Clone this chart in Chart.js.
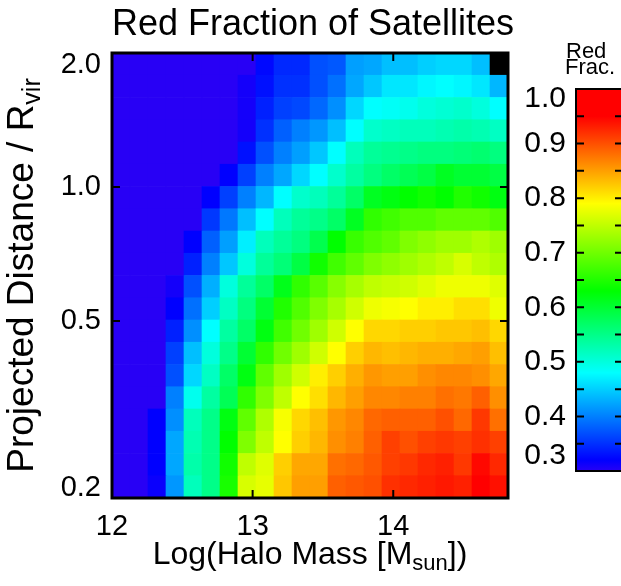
<!DOCTYPE html>
<html>
<head>
<meta charset="utf-8">
<title>Red Fraction of Satellites</title>
<script src="https://cdn.jsdelivr.net/npm/chart.js@4.4.1/dist/chart.umd.min.js"></script>
<style>
  html, body { margin: 0; padding: 0; background: #fff; overflow: hidden; }
  #wrap { position: relative; width: 621px; height: 586px; overflow: hidden; }
  #heat { position: absolute; left: 0; top: 0; }
  #cbar { position: absolute; left: 500px; top: 0; }
</style>
</head>
<body>
<div id="wrap">
  <canvas id="heat" width="621" height="586"></canvas>
  <canvas id="cbar" width="160" height="586"></canvas>
</div>
<script>
// bin centres in log halo mass (22 columns)
const massBins = [12.064, 12.192, 12.320, 12.448, 12.576, 12.704, 12.832, 12.960, 13.088, 13.216, 13.344,
                  13.472, 13.600, 13.728, 13.856, 13.984, 14.112, 14.240, 14.368, 14.496, 14.624, 14.752];
// bin edges in projected distance / Rvir (20 rows, log spaced)
const distEdges = [0.2, 0.2244, 0.2518, 0.2825, 0.3170, 0.3557, 0.3991, 0.4478, 0.5024, 0.5637, 0.6325,
                   0.7096, 0.7962, 0.8934, 1.0024, 1.1247, 1.2619, 1.4159, 1.5887, 1.7825, 2.0];

// red fraction per row, bottom (0.2) to top (2.0); null = no satellites
const row00 = [0.28,0.28,0.315,0.415,0.52,0.55,0.645,0.765,0.775,0.825,0.85,0.85,0.89,0.895,0.90,0.92,0.925,0.93,0.935,0.93,0.96,0.94];
const row01 = [0.28,0.28,0.32,0.425,0.53,0.55,0.64,0.75,0.77,0.82,0.845,0.845,0.88,0.885,0.895,0.91,0.915,0.925,0.93,0.915,0.945,0.925];
const row02 = [0.28,0.28,0.32,0.425,0.525,0.55,0.63,0.71,0.75,0.79,0.82,0.835,0.86,0.87,0.89,0.91,0.90,0.91,0.915,0.91,0.92,0.91];
const row03 = [0.28,0.28,0.32,0.41,0.52,0.55,0.62,0.69,0.74,0.785,0.815,0.83,0.855,0.865,0.885,0.89,0.89,0.89,0.90,0.885,0.915,0.88];
const row04 = [0.28,0.28,0.28,0.40,0.49,0.535,0.58,0.66,0.71,0.75,0.79,0.81,0.835,0.85,0.865,0.865,0.87,0.87,0.88,0.875,0.89,0.86];
const row05 = [0.28,0.28,0.28,0.37,0.455,0.515,0.57,0.62,0.69,0.73,0.76,0.80,0.82,0.84,0.855,0.85,0.85,0.86,0.865,0.865,0.86,0.845];
const row06 = [0.28,0.28,0.28,0.36,0.44,0.50,0.55,0.60,0.66,0.70,0.73,0.76,0.79,0.82,0.835,0.83,0.835,0.84,0.84,0.845,0.85,0.83];
const row07 = [0.28,0.28,0.28,0.34,0.41,0.48,0.535,0.57,0.62,0.67,0.70,0.73,0.76,0.79,0.815,0.815,0.82,0.82,0.825,0.825,0.83,0.815];
const row08 = [0.28,0.28,0.28,0.32,0.39,0.45,0.515,0.555,0.60,0.65,0.68,0.71,0.735,0.76,0.78,0.785,0.79,0.80,0.80,0.81,0.81,0.78];
const row09 = [0.28,0.28,0.28,0.31,0.37,0.43,0.50,0.54,0.57,0.615,0.66,0.685,0.715,0.735,0.75,0.755,0.76,0.77,0.78,0.78,0.78,0.77];
const row10 = [0.28,0.28,0.28,0.28,0.34,0.40,0.445,0.50,0.54,0.56,0.59,0.64,0.67,0.69,0.71,0.72,0.73,0.74,0.75,0.765,0.75,0.74];
const row11 = [0.28,0.28,0.28,0.28,0.32,0.38,0.42,0.47,0.52,0.54,0.555,0.585,0.63,0.665,0.68,0.69,0.71,0.72,0.73,0.73,0.74,0.73];
const row12 = [0.28,0.28,0.28,0.28,0.30,0.355,0.395,0.44,0.48,0.52,0.54,0.55,0.57,0.61,0.66,0.67,0.68,0.68,0.69,0.69,0.69,0.68];
const row13 = [0.28,0.28,0.28,0.28,0.28,0.32,0.36,0.40,0.435,0.48,0.51,0.52,0.54,0.57,0.61,0.62,0.63,0.64,0.63,0.65,0.64,0.62];
const row14 = [0.28,0.28,0.28,0.28,0.28,0.28,0.32,0.36,0.40,0.425,0.455,0.48,0.51,0.535,0.555,0.57,0.58,0.59,0.61,0.60,0.60,0.59];
const row15 = [0.28,0.28,0.28,0.28,0.28,0.28,0.28,0.33,0.37,0.40,0.42,0.445,0.48,0.52,0.54,0.545,0.55,0.555,0.555,0.56,0.565,0.555];
const row16 = [0.28,0.28,0.28,0.28,0.28,0.28,0.28,0.31,0.35,0.38,0.40,0.415,0.44,0.48,0.51,0.515,0.52,0.52,0.525,0.53,0.525,0.515];
const row17 = [0.28,0.28,0.28,0.28,0.28,0.28,0.28,0.31,0.34,0.36,0.365,0.385,0.41,0.455,0.48,0.485,0.49,0.50,0.505,0.51,0.50,0.48];
const row18 = [0.28,0.28,0.28,0.28,0.28,0.28,0.28,0.31,0.33,0.35,0.35,0.37,0.39,0.425,0.445,0.465,0.465,0.475,0.48,0.475,0.465,0.435];
const row19 = [0.28,0.28,0.28,0.28,0.28,0.28,0.28,0.30,0.325,0.345,0.345,0.37,0.375,0.42,0.425,0.44,0.44,0.45,0.455,0.455,0.44,null];
const rows = [row00, row01, row02, row03, row04, row05, row06, row07, row08, row09,
              row10, row11, row12, row13, row14, row15, row16, row17, row18, row19];

// axis ticks
const xTicks = [12, 13, 14];
const xTickLabels = ['12', '13', '14'];
const yTicks = [0.2, 0.5, 1.0, 2.0];
const yTickLabels = ['0.2', '0.5', '1.0', '2.0'];
const cbTicks = [0.3, 0.4, 0.5, 0.6, 0.7, 0.8, 0.9, 1.0];
const cbTickLabels = ['0.3', '0.4', '0.5', '0.6', '0.7', '0.8', '0.9', '1.0'];
const cbMinorTicks = [0.35, 0.45, 0.55, 0.65, 0.75, 0.85, 0.95];

// colour table (IDL-like rainbow)
const cmapLevels = [0.30, 0.32, 0.48, 0.63, 0.79, 0.95, 1.0];
const cmapColors = [[40, 0, 245], [0, 0, 255], [0, 255, 255], [0, 255, 0], [255, 255, 0], [255, 0, 0], [255, 0, 0]];

const FONT = '"Liberation Sans", Arial, Helvetica, sans-serif';

function rgb(c) { return 'rgb(' + c[0] + ',' + c[1] + ',' + c[2] + ')'; }

function fracColor(v) {
    if (v === null) return '#000';
    if (v <= cmapLevels[0]) return rgb(cmapColors[0]);
    for (var i = 1; i < cmapLevels.length; i++) {
        if (v <= cmapLevels[i]) {
            var t = (v - cmapLevels[i - 1]) / (cmapLevels[i] - cmapLevels[i - 1]);
            var a = cmapColors[i - 1], b = cmapColors[i];
            return rgb([0, 1, 2].map(k => Math.round(a[k] + (b[k] - a[k]) * t)));
        }
    }
    return rgb(cmapColors[cmapColors.length - 1]);
}

function clamp(p, lo, hi) { return Math.min(Math.max(p, lo), hi); }

// draws text made of pieces, some of them subscripts, centred on x
function drawParts(ctx, parts, x, y) {
    var widths = parts.map(p => { ctx.font = p.size + 'px ' + FONT; return ctx.measureText(p.t).width; });
    var total = widths.reduce((s, w) => s + w, 0);
    var cx = x - total / 2;
    ctx.textAlign = 'left';
    ctx.textBaseline = 'alphabetic';
    parts.forEach((p, i) => {
        ctx.font = p.size + 'px ' + FONT;
        ctx.fillText(p.t, cx, y + (p.dy || 0));
        cx += widths[i];
    });
}

const heatAxes = {
    id: 'heatAxes',
    afterDraw(chart) {
        const { ctx, chartArea: a, scales: { x, y } } = chart;
        ctx.save();
        ctx.strokeStyle = '#000';
        ctx.fillStyle = '#000';

        ctx.lineWidth = 2;
        ctx.beginPath();
        xTicks.forEach(v => {
            const px = x.getPixelForValue(v);
            ctx.moveTo(px, a.bottom); ctx.lineTo(px, a.bottom - 8);
            ctx.moveTo(px, a.top); ctx.lineTo(px, a.top + 8);
        });
        yTicks.forEach(v => {
            const py = y.getPixelForValue(v);
            ctx.moveTo(a.left, py); ctx.lineTo(a.left + 8, py);
            ctx.moveTo(a.right, py); ctx.lineTo(a.right - 8, py);
        });
        ctx.stroke();

        ctx.lineWidth = 3;
        ctx.strokeRect(a.left, a.top, a.right - a.left, a.bottom - a.top);

        ctx.font = '29px ' + FONT;
        ctx.textAlign = 'center';
        ctx.textBaseline = 'alphabetic';
        xTicks.forEach((v, i) => ctx.fillText(xTickLabels[i], x.getPixelForValue(v), a.bottom + 37));

        ctx.textAlign = 'right';
        ctx.textBaseline = 'middle';
        yTicks.forEach((v, i) => {
            ctx.fillText(yTickLabels[i], a.left - 11, clamp(y.getPixelForValue(v), a.top + 12, a.bottom - 10));
        });

        const cx = (a.left + a.right) / 2;
        ctx.font = '36px ' + FONT;
        ctx.textAlign = 'center';
        ctx.textBaseline = 'alphabetic';
        ctx.fillText('Red Fraction of Satellites', cx + 3, 35);

        drawParts(ctx, [
            { t: 'Log(Halo Mass [M', size: 32 },
            { t: 'sun', size: 22, dy: 6 },
            { t: '])', size: 32 }
        ], cx, 564);

        ctx.translate(33, (a.top + a.bottom) / 2);
        ctx.rotate(-Math.PI / 2);
        drawParts(ctx, [
            { t: 'Projected Distance / R', size: 37 },
            { t: 'vir', size: 25, dy: 7 }
        ], 0, 0);
        ctx.restore();
    }
};

const cbarAxes = {
    id: 'cbarAxes',
    afterDraw(chart) {
        const { ctx, chartArea: a, scales: { y } } = chart;
        ctx.save();
        ctx.strokeStyle = '#000';
        ctx.fillStyle = '#000';
        ctx.lineWidth = 2;
        ctx.beginPath();
        cbTicks.concat(cbMinorTicks).forEach(v => {
            const py = y.getPixelForValue(v);
            ctx.moveTo(a.left, py); ctx.lineTo(a.left + 8, py);
            ctx.moveTo(a.right, py); ctx.lineTo(a.right - 8, py);
        });
        ctx.stroke();
        ctx.lineWidth = 2;
        ctx.strokeRect(a.left, a.top, a.right - a.left, a.bottom - a.top);

        ctx.font = '30px ' + FONT;
        ctx.textAlign = 'right';
        ctx.textBaseline = 'middle';
        cbTicks.forEach((v, i) => {
            ctx.fillText(cbTickLabels[i], a.left - 10, clamp(y.getPixelForValue(v), a.top + 10, a.bottom - 15));
        });

        ctx.font = '22px ' + FONT;
        ctx.textAlign = 'left';
        ctx.textBaseline = 'alphabetic';
        ctx.fillText('Red', a.left - 10, 58);
        ctx.fillText('Frac.', a.left - 11, 74);
        ctx.restore();
    }
};

new Chart(document.getElementById('heat'), {
    type: 'bar',
    data: {
        datasets: rows.map((vals, r) => ({
            label: distEdges[r] + '-' + distEdges[r + 1],
            data: massBins.map(m => ({ x: m, y: [distEdges[r], distEdges[r + 1]] })),
            backgroundColor: vals.map(fracColor),
            borderWidth: 0,
            grouped: false,
            barPercentage: 1.0,
            categoryPercentage: 1.0
        }))
    },
    options: {
        responsive: false,
        animation: false,
        events: [],
        layout: { padding: { left: 112, right: 113, top: 53, bottom: 88 } },
        scales: {
            x: { type: 'linear', min: 12.0, max: 14.816, offset: false, display: false, grid: { offset: false } },
            y: { type: 'logarithmic', min: 0.2, max: 2.0, display: false }
        },
        plugins: { legend: { display: false }, tooltip: { enabled: false }, title: { display: false } }
    },
    plugins: [heatAxes]
});

const cbMin = cbTicks[0], cbMax = cbTicks[cbTicks.length - 1];

new Chart(document.getElementById('cbar'), {
    type: 'bar',
    data: {
        labels: ['Red Frac.'],
        datasets: [{
            data: [[cbMin, cbMax]],
            backgroundColor: function (context) {
                const chart = context.chart;
                if (!chart.chartArea) return null;
                const ys = chart.scales.y;
                const g = chart.ctx.createLinearGradient(0, ys.getPixelForValue(cbMin), 0, ys.getPixelForValue(cbMax));
                cmapLevels.forEach((lv, i) => g.addColorStop((lv - cbMin) / (cbMax - cbMin), rgb(cmapColors[i])));
                return g;
            },
            borderWidth: 0,
            barPercentage: 1.0,
            categoryPercentage: 1.0
        }]
    },
    options: {
        responsive: false,
        animation: false,
        events: [],
        layout: { padding: { left: 76, right: 37, top: 89, bottom: 115 } },
        scales: {
            x: { display: false },
            y: { min: cbMin, max: cbMax, display: false }
        },
        plugins: { legend: { display: false }, tooltip: { enabled: false } }
    },
    plugins: [cbarAxes]
});
</script>
</body>
</html>
